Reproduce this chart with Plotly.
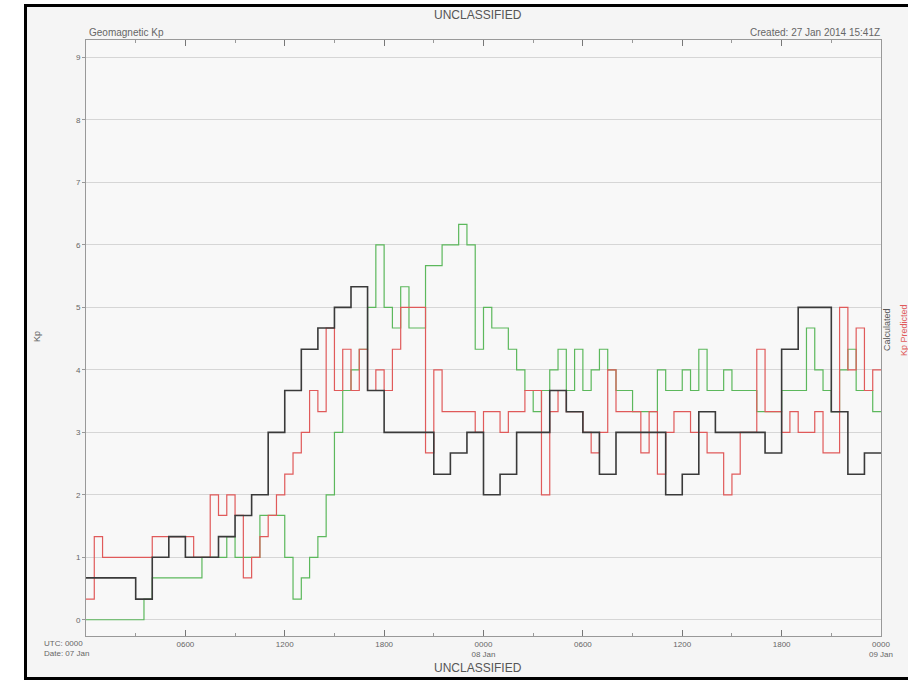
import plotly.graph_objects as go

# ---- data (Kp values, step series) ----
hours_hourly = [h for h in range(48)]          # black series sampled hourly
hours_half = [h * 0.5 for h in range(96)]      # red / green series sampled half-hourly

kp_black = [0.67, 0.67, 0.67, 0.33, 1.0, 1.33, 1.0, 1.0, 1.33, 1.67, 2.0, 3.0,
            3.67, 4.33, 4.67, 5.0, 5.33, 3.67, 3.0, 3.0, 3.0, 2.33, 2.67, 3.0,
            2.0, 2.33, 3.0, 3.0, 3.67, 3.33, 3.0, 2.33, 3.0, 3.0, 3.0, 2.0,
            2.33, 3.33, 3.0, 3.0, 3.0, 2.67, 4.33, 5.0, 5.0, 3.33, 2.33, 2.67]

kp_red = [0.33, 1.33, 1.0, 1.0, 1.0, 1.0, 1.0, 1.0, 1.33, 1.33, 1.33, 1.33,
          1.33, 1.0, 1.0, 2.0, 1.67, 2.0, 1.67, 0.67, 1.0, 1.33, 1.67, 2.0,
          2.33, 2.67, 3.0, 3.67, 3.33, 4.67, 3.67, 4.33, 3.67, 4.33, 3.67, 4.0,
          3.67, 4.33, 5.0, 5.0, 5.0, 2.67, 4.0, 3.33, 3.33, 3.33, 3.33, 3.0,
          3.33, 3.33, 3.0, 3.33, 3.33, 3.67, 3.67, 2.0, 3.33, 3.67, 3.33, 3.33,
          3.0, 2.67, 3.0, 4.0, 3.33, 3.33, 3.33, 2.67, 3.33, 2.33, 3.0, 3.33,
          3.33, 3.0, 3.0, 2.67, 2.67, 2.0, 2.33, 3.0, 3.0, 4.33, 3.33, 3.33,
          3.0, 3.33, 3.0, 3.0, 3.33, 2.67, 2.67, 5.0, 4.0, 4.67, 3.67, 4.0]

kp_green = [0.0, 0.0, 0.0, 0.0, 0.0, 0.0, 0.0, 0.33, 0.67, 0.67, 0.67, 0.67,
            0.67, 0.67, 1.0, 1.0, 1.0, 1.33, 1.0, 1.0, 1.0, 1.67, 1.67, 1.67,
            1.0, 0.33, 0.67, 1.0, 1.33, 2.0, 3.0, 3.67, 4.0, 4.33, 5.0, 6.0,
            5.0, 4.67, 5.33, 4.67, 4.67, 5.67, 5.67, 6.0, 6.0, 6.33, 6.0, 4.33,
            5.0, 4.67, 4.67, 4.33, 4.0, 3.67, 3.33, 3.67, 4.0, 4.33, 3.67, 4.33,
            3.67, 4.0, 4.33, 4.0, 3.67, 3.67, 3.33, 3.33, 3.33, 4.0, 3.67, 3.67,
            4.0, 3.67, 4.33, 3.67, 3.67, 4.0, 3.67, 3.67, 3.67, 3.33, 3.33, 3.33,
            3.67, 3.67, 3.67, 4.67, 4.0, 3.67, 3.33, 4.0, 4.33, 3.67, 3.67, 3.33]

x_tickvals = [0, 6, 12, 18, 24, 30, 36, 42, 48]
x_ticktext = ["", "0600", "1200", "1800", "0000<br>08 Jan", "0600", "1200",
              "1800", "0000<br>09 Jan"]
y_tickvals = [0, 1, 2, 3, 4, 5, 6, 7, 8, 9]

FONT = "Liberation Sans, Arial, sans-serif"

fig = go.Figure()

def add_step(xs, ys, color, width, end=48):
    fig.add_trace(go.Scatter(
        x=list(xs) + [end], y=list(ys) + [ys[-1]],
        mode="lines", line=dict(color=color, width=width, shape="hv"),
        hoverinfo="skip", showlegend=False))

add_step(hours_half, kp_green, "#5cb85c", 1.2)
add_step(hours_half, kp_red, "#e05a5a", 1.2)
add_step(hours_hourly, kp_black, "#3a3a3a", 1.6)

# plot area pixel box: x 86..881, y 40..636
L, R, T, B = 86, 881, 40, 636
W, H = R - L, B - T

def px(x):
    return (x - L) / W

def py(y):
    return (B - y) / H

shapes = [
    # outer frame with thick black border
    dict(type="rect", xref="paper", yref="paper", layer="below",
         x0=px(25.5), x1=px(960), y0=py(678.5), y1=py(5.5),
         line=dict(color="black", width=3), fillcolor="#f5f5f5"),
    # plot area background
    dict(type="rect", xref="paper", yref="paper", layer="below",
         x0=0, x1=1, y0=0, y1=1, line=dict(width=0), fillcolor="#f8f8f8"),
]

annotations = [
    dict(text="UNCLASSIFIED", x=px(478), y=py(15), xref="paper", yref="paper",
         showarrow=False, font=dict(family=FONT, size=12, color="#555"),
         xanchor="center", yanchor="middle"),
    dict(text="UNCLASSIFIED", x=px(478), y=py(668), xref="paper", yref="paper",
         showarrow=False, font=dict(family=FONT, size=12, color="#555"),
         xanchor="center", yanchor="middle"),
    dict(text="Geomagnetic Kp", x=px(87), y=py(32), xref="paper", yref="paper",
         showarrow=False, font=dict(family=FONT, size=10, color="#666"),
         xanchor="left", yanchor="middle"),
    dict(text="Created: 27 Jan 2014 15:41Z", x=px(882), y=py(32), xref="paper",
         yref="paper", showarrow=False,
         font=dict(family=FONT, size=10, color="#666"),
         xanchor="right", yanchor="middle"),
    dict(text="Kp", x=px(37), y=py(337), xref="paper", yref="paper",
         showarrow=False, textangle=-90,
         font=dict(family=FONT, size=9, color="#666"),
         xanchor="center", yanchor="middle"),
    dict(text="UTC: 0000<br>Date: 07 Jan", x=px(42), y=py(637), xref="paper",
         yref="paper", showarrow=False, align="left",
         font=dict(family=FONT, size=8, color="#666"),
         xanchor="left", yanchor="top"),
    dict(text="Calculated", x=px(887), y=py(330), xref="paper", yref="paper",
         showarrow=False, textangle=-90,
         font=dict(family=FONT, size=9, color="#555"),
         xanchor="center", yanchor="middle"),
    dict(text="Kp Predicted", x=px(904), y=py(330), xref="paper", yref="paper",
         showarrow=False, textangle=-90,
         font=dict(family=FONT, size=9, color="#e05a5a"),
         xanchor="center", yanchor="middle"),
]

fig.update_layout(
    width=908, height=681,
    margin=dict(l=L, r=908 - R, t=T, b=681 - B, pad=0),
    paper_bgcolor="white", plot_bgcolor="#f8f8f8",
    shapes=shapes, annotations=annotations,
    showlegend=False,
    font=dict(family=FONT, size=8, color="#666"),
)

fig.update_xaxes(
    range=[0, 48], tickvals=x_tickvals, ticktext=x_ticktext,
    showgrid=False, zeroline=False,
    showline=True, linecolor="#999", linewidth=1, mirror="ticks",
    ticks="inside", ticklen=6, tickcolor="#777", tickwidth=1,
    tickfont=dict(family=FONT, size=8, color="#666"),
    minor=dict(dtick=3, tick0=0, ticks="inside", ticklen=3, tickcolor="#999",
               showgrid=False),
)
fig.update_yaxes(
    range=[-0.26, 9.28], tickvals=y_tickvals,
    showgrid=True, gridcolor="#d6d6d6", gridwidth=1, zeroline=False,
    showline=True, linecolor="#999", linewidth=1, mirror=True,
    ticks="outside", ticklen=3, tickcolor="#999",
    tickfont=dict(family=FONT, size=8, color="#666"),
)

fig.write_html("out.html")
